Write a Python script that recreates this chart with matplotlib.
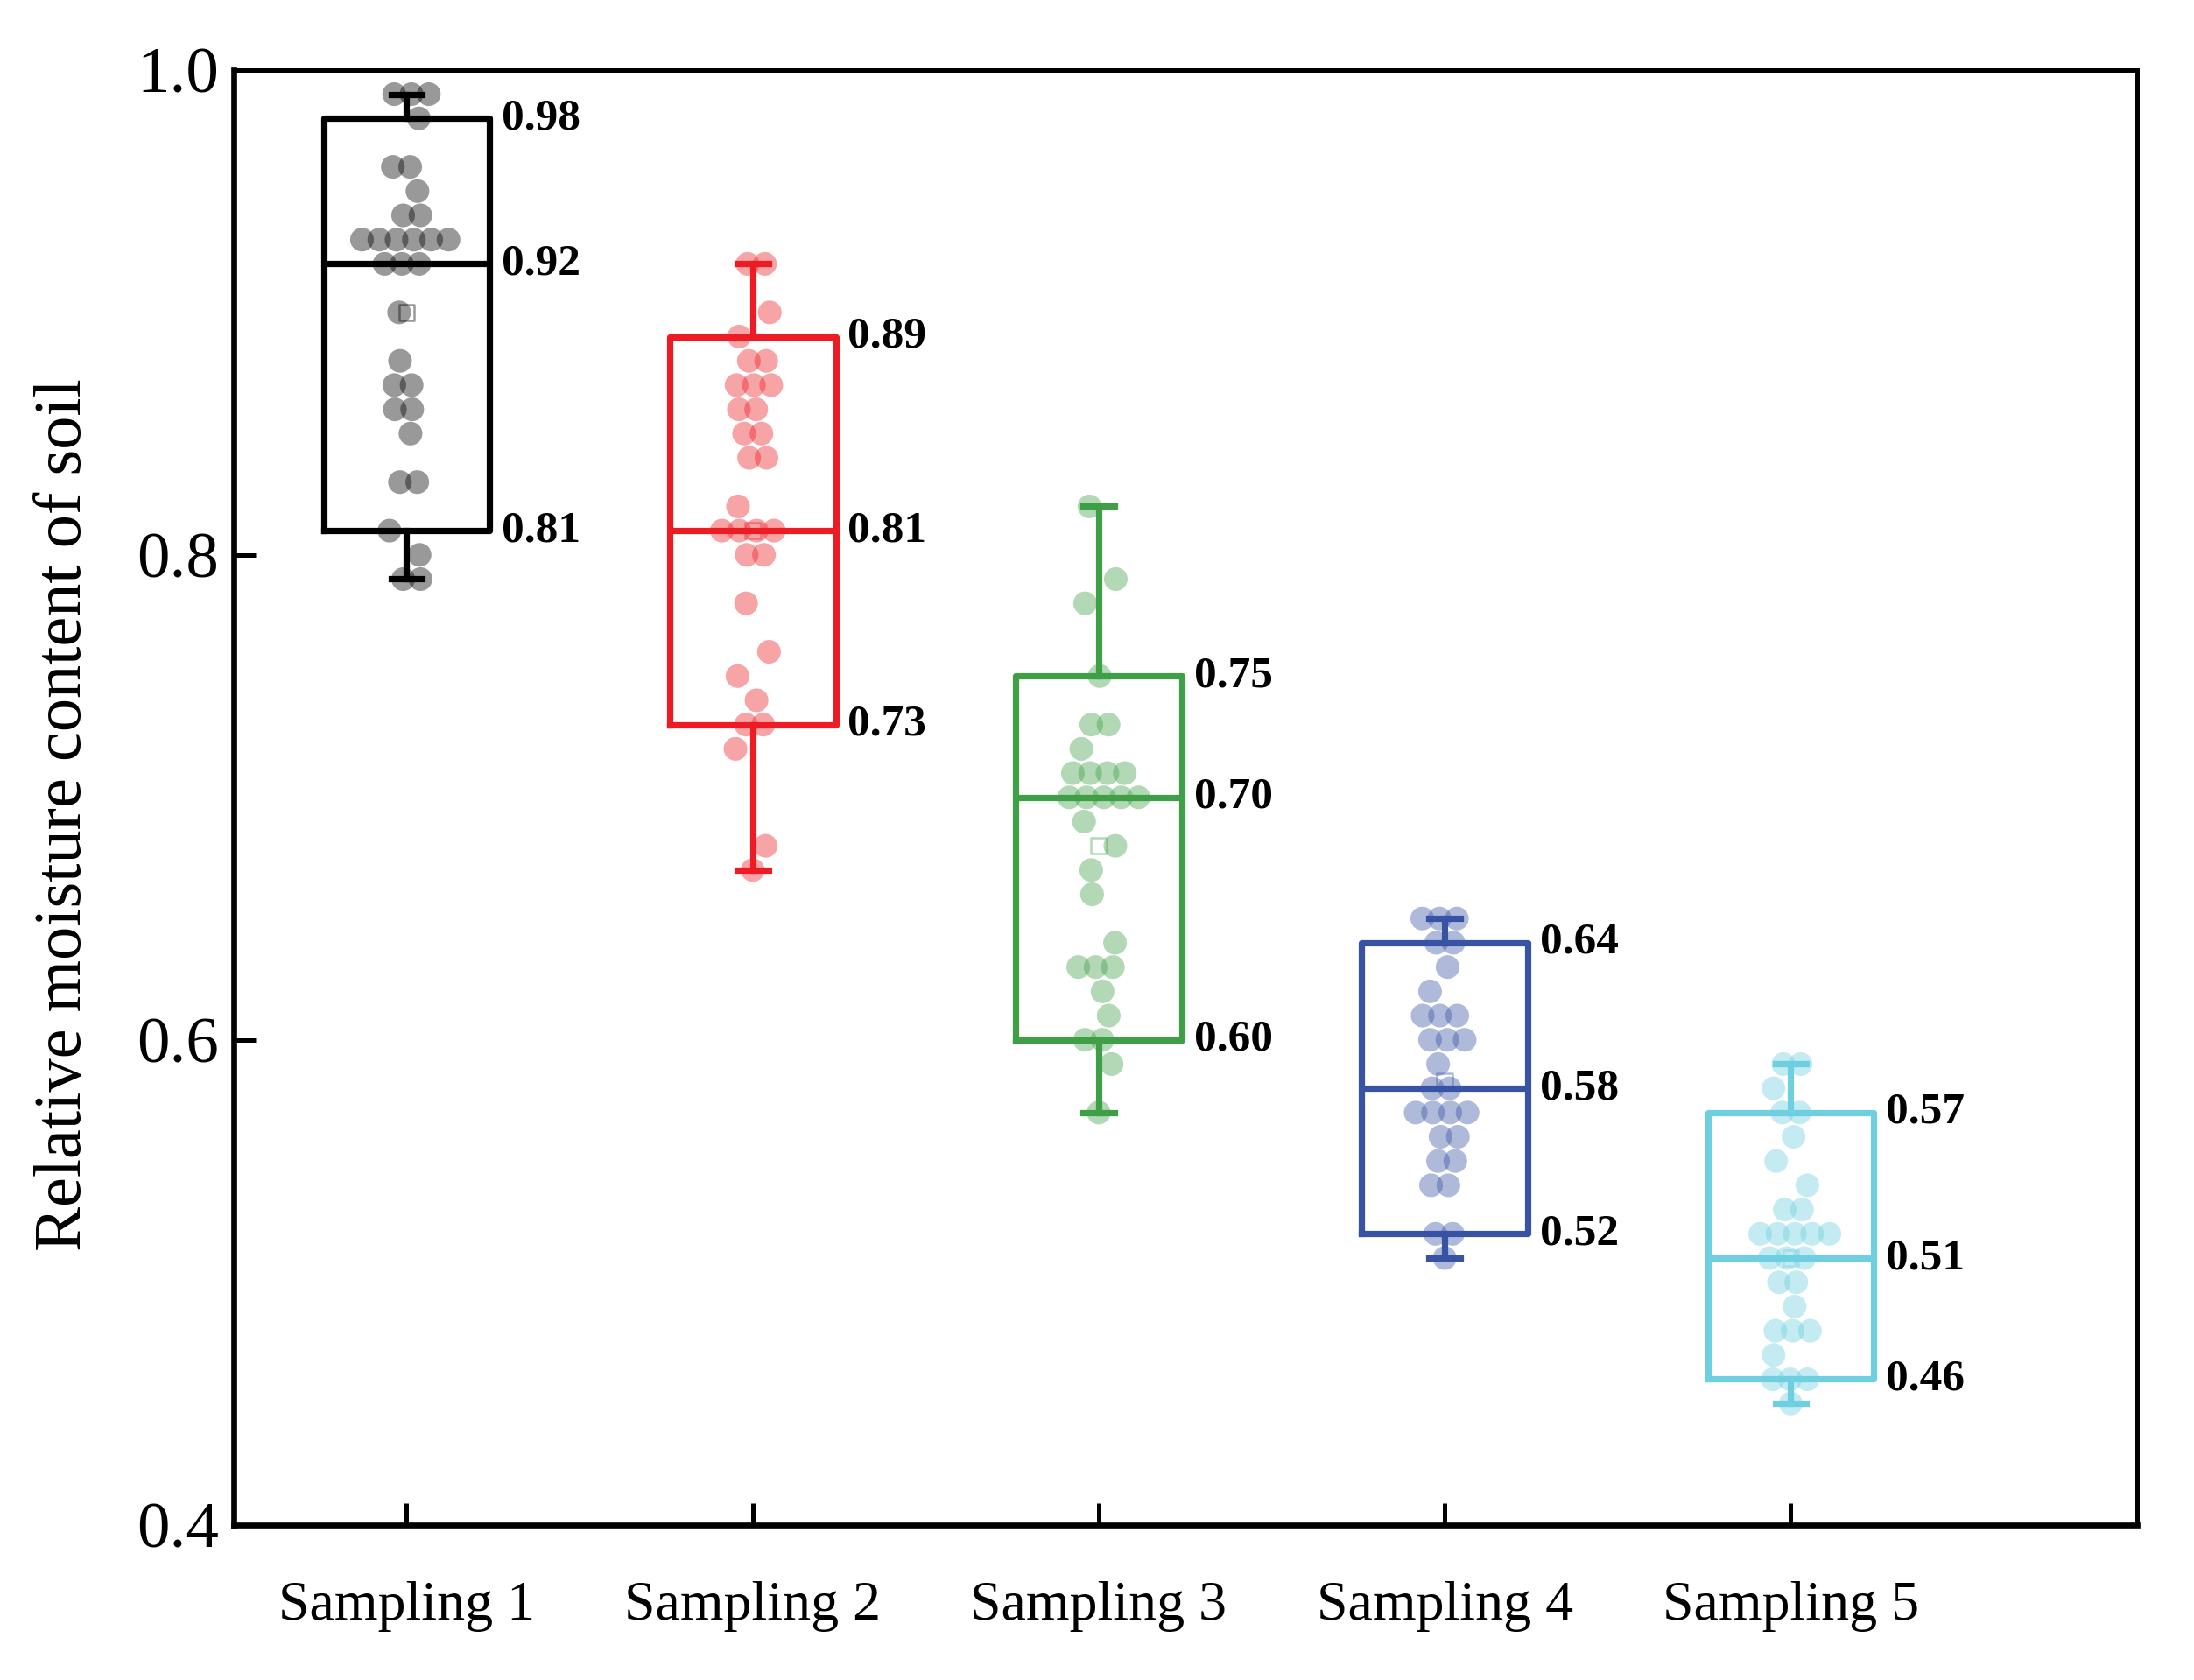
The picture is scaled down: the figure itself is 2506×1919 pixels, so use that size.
import numpy as np
import matplotlib
matplotlib.use("Agg")
import matplotlib.pyplot as plt

plt.rcParams['font.family'] = ['Liberation Serif', 'DejaVu Serif']

categories = ["Sampling 1", "Sampling 2", "Sampling 3", "Sampling 4", "Sampling 5"]
colors = ["#000000", "#ED1C24", "#3F9F46", "#3953A4", "#6DCFDF"]

# box statistics as printed on the chart
q1 = [0.81, 0.73, 0.60, 0.52, 0.46]
med = [0.92, 0.81, 0.70, 0.58, 0.51]
q3 = [0.98, 0.89, 0.75, 0.64, 0.57]
whislo = [0.79, 0.67, 0.57, 0.51, 0.45]
whishi = [0.99, 0.92, 0.82, 0.65, 0.59]
means = [0.90, 0.81, 0.68, 0.583, 0.51]

sampling1 = [0.99, 0.99, 0.99, 0.98, 0.96, 0.96, 0.95, 0.94, 0.94, 0.93, 0.93, 0.93,
             0.93, 0.93, 0.93, 0.92, 0.92, 0.92, 0.90, 0.88, 0.87, 0.87, 0.86, 0.86,
             0.85, 0.83, 0.83, 0.81, 0.80, 0.79, 0.79]
sampling2 = [0.92, 0.92, 0.90, 0.89, 0.88, 0.88, 0.87, 0.87, 0.87, 0.86, 0.86, 0.85,
             0.85, 0.84, 0.84, 0.82, 0.81, 0.81, 0.81, 0.81, 0.80, 0.80, 0.78, 0.76,
             0.75, 0.74, 0.73, 0.73, 0.72, 0.68, 0.67]
sampling3 = [0.82, 0.79, 0.78, 0.75, 0.73, 0.73, 0.72, 0.71, 0.71, 0.71, 0.71, 0.70,
             0.70, 0.70, 0.70, 0.70, 0.69, 0.68, 0.67, 0.66, 0.64, 0.63, 0.63, 0.63,
             0.62, 0.61, 0.60, 0.60, 0.59, 0.57]
sampling4 = [0.65, 0.65, 0.65, 0.64, 0.64, 0.63, 0.62, 0.61, 0.61, 0.61, 0.60, 0.60,
             0.60, 0.59, 0.58, 0.58, 0.57, 0.57, 0.57, 0.57, 0.56, 0.56, 0.55, 0.55,
             0.54, 0.54, 0.52, 0.52, 0.51]
sampling5 = [0.59, 0.59, 0.58, 0.57, 0.57, 0.56, 0.55, 0.54, 0.53, 0.53, 0.52, 0.52,
             0.52, 0.52, 0.52, 0.51, 0.51, 0.51, 0.50, 0.50, 0.49, 0.48, 0.48, 0.48,
             0.47, 0.46, 0.46, 0.46, 0.45]
samples = [sampling1, sampling2, sampling3, sampling4, sampling5]

fig = plt.figure(figsize=(12.53, 9.595), dpi=200)
ax = fig.add_axes([0.1065, 0.0924, 0.8674, 0.866])

positions = np.arange(1, len(categories) + 1)

# scatter points: equal values placed side by side, singles nudged alternately
for i, vals in enumerate(samples):
    vals = np.array(vals)
    xs = np.zeros(len(vals))
    k = 0
    for v in np.unique(vals):
        idx = np.where(vals == v)[0]
        n = len(idx)
        if n == 1:
            xs[idx] = 0.05 * np.sin(k * 2.3)
        else:
            xs[idx] = (np.arange(n) - (n - 1) / 2) * 0.05 + 0.015 * np.cos(k * 1.7)
        k += 1
    ax.scatter(positions[i] + xs, vals, s=95, color=colors[i], alpha=0.4,
               edgecolors='none', zorder=3)

stats = []
for i in range(len(categories)):
    stats.append(dict(med=med[i], q1=q1[i], q3=q3[i], whislo=whislo[i],
                      whishi=whishi[i], fliers=[], label=categories[i]))

for i in range(len(categories)):
    lp = dict(color=colors[i], linewidth=2.6)
    ax.bxp([stats[i]], positions=[positions[i]], widths=0.48, capwidths=0.09,
           showfliers=False, boxprops=lp, medianprops=lp, whiskerprops=lp,
           capprops=lp, manage_ticks=False, zorder=4)
    ax.scatter(positions[i], means[i], marker='s', s=40, facecolors='none',
               edgecolors=colors[i], alpha=0.4, linewidths=0.9, zorder=4)
    for v in [q3[i], med[i], q1[i]]:
        ax.text(positions[i] + 0.24 + 0.035, v, f"{v:.2f}", ha='left', va='center',
                fontsize=18.5, fontweight='bold', color='black')

ax.set_xlim(0.5, 6.0)
ax.set_ylim(0.4, 1.0)
ax.set_xticks(positions)
ax.set_xticklabels(categories, fontsize=23)
ax.set_yticks([0.4, 0.6, 0.8, 1.0])
ax.set_yticklabels(["0.4", "0.6", "0.8", "1.0"], fontsize=27)
ax.tick_params(axis='x', direction='in', length=9, width=1.8, pad=23)
ax.tick_params(axis='y', direction='in', length=9, width=1.8, pad=6)

for side in ['left', 'bottom']:
    ax.spines[side].set_linewidth(2.4)
for side in ['top', 'right']:
    ax.spines[side].set_linewidth(1.8)

ax.set_ylabel("Relative moisture content of soil", fontsize=27.5)
ax.yaxis.set_label_coords(-0.073, 0.488)

fig.savefig("out.png", dpi=200)
